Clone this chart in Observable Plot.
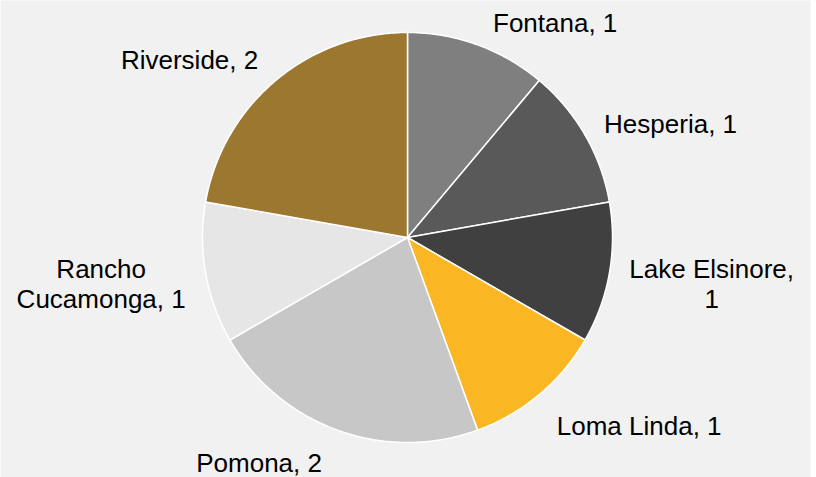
<!DOCTYPE html>
<html>
<head>
<meta charset="utf-8">
<script src="https://cdn.jsdelivr.net/npm/d3@7"></script>
<script src="https://cdn.jsdelivr.net/npm/@observablehq/plot@0.6"></script>
<style>
  html, body { margin: 0; padding: 0; background: #ffffff; }
  #chart svg { display: block; }
</style>
</head>
<body>
<div id="chart"></div>
<script>
// ---- data ----
const cities = ["Fontana", "Hesperia", "Lake Elsinore", "Loma Linda", "Pomona", "Rancho Cucamonga", "Riverside"];
const counts = [1, 1, 1, 1, 2, 1, 2];
const sliceColors = ["#7f7f7f", "#595959", "#404040", "#fbb623", "#c6c7c6", "#e6e6e6", "#9c7730"];
const labelTexts = ["Fontana, 1", "Hesperia, 1", "Lake Elsinore,\n1", "Loma Linda, 1", "Pomona, 2", "Rancho\nCucamonga, 1", "Riverside, 2"];

// ---- geometry (data units = pixels, origin at pie centre, y up) ----
const R = 205;
const FONT = 26;
const arcs = d3.pie().sort(null).value(d => d)(counts);

const slicePts = [];
arcs.forEach((a, i) => {
  slicePts.push({city: cities[i], x: 0, y: 0});
  const n = Math.max(2, Math.ceil((a.endAngle - a.startAngle) / (Math.PI / 360)));
  for (let k = 0; k <= n; k++) {
    const t = a.startAngle + (a.endAngle - a.startAngle) * k / n;
    slicePts.push({city: cities[i], x: R * Math.sin(t), y: R * Math.cos(t)});
  }
});

const ctx = document.createElement("canvas").getContext("2d");
ctx.font = `${FONT}px 'Liberation Sans', Arial, sans-serif`;
const labelData = arcs.map((a, i) => {
  const m = (a.startAngle + a.endAngle) / 2;
  const s = Math.sin(m), c = Math.cos(m);
  const lines = labelTexts[i].split("\n");
  const w = d3.max(lines, l => ctx.measureText(l).width);
  const r0 = R + 7;
  const vshift = 21 * Math.pow(Math.min(1, Math.abs(c) / 0.75), 1.15) * Math.sign(c);
  return {
    text: labelTexts[i],
    x: r0 * s + Math.sign(s) * (w / 2 + 13),
    y: r0 * c + vshift - 5
  };
});

const chart = Plot.plot({
  width: 816,
  height: 477,
  margin: 0,
  x: {domain: [-407, 409], axis: null},
  y: {domain: [-240, 237], axis: null},
  color: {domain: cities, range: sliceColors},
  style: {background: "transparent", fontFamily: "'Liberation Sans', Arial, sans-serif"},
  marks: [
    Plot.frame({fill: "#f1f1f1", stroke: null, insetRight: 6}),
    Plot.line(slicePts, {x: "x", y: "y", z: "city", fill: "city", stroke: "#ffffff", strokeWidth: 1.5, strokeLinejoin: "round", curve: "linear-closed"}),
    Plot.text(labelData, {x: "x", y: "y", text: "text", fontSize: FONT, lineHeight: 1.15, textAnchor: "middle", lineAnchor: "middle", fill: "#000000"})
  ]
});
document.getElementById("chart").appendChild(chart);
</script>
</body>
</html>
